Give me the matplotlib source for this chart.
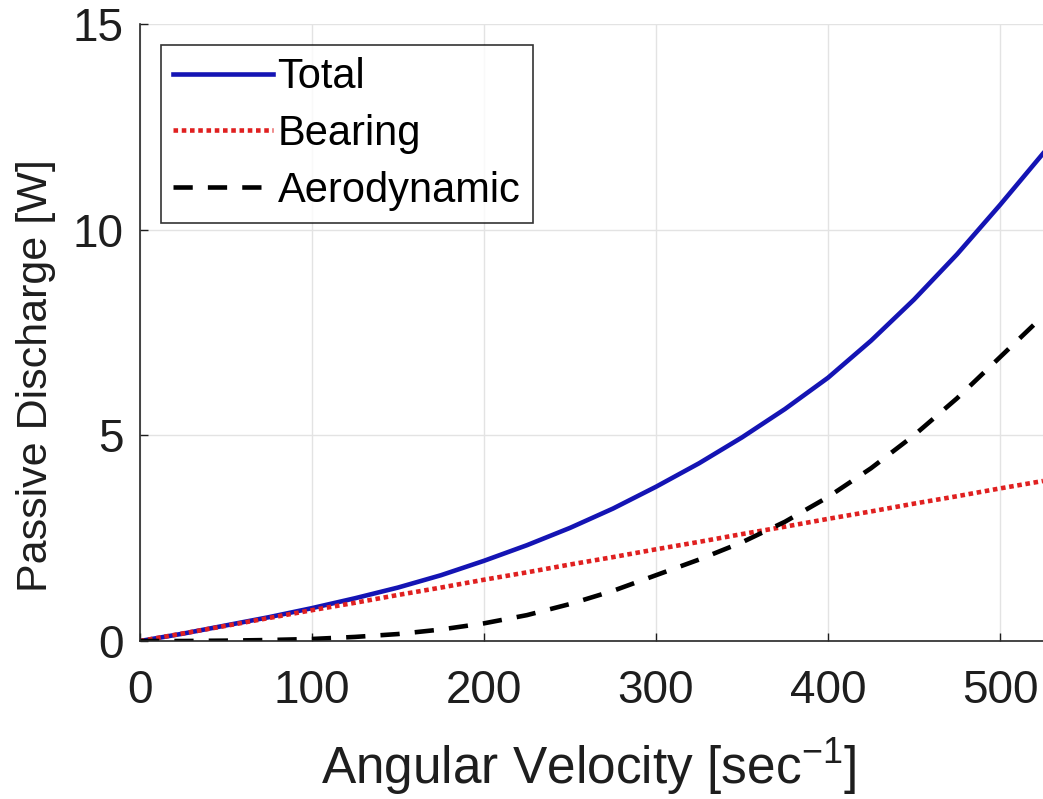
import numpy as np
import matplotlib
matplotlib.use("Agg")
import matplotlib.pyplot as plt

# datos
omega = [0, 25, 50, 75, 100, 125, 150, 175, 200, 225, 250, 275, 300,
         325, 350, 375, 400, 425, 450, 475, 500, 525]
total = [0, 0.18, 0.38, 0.58, 0.8, 1.04, 1.3, 1.6, 1.95, 2.33, 2.75, 3.22,
         3.75, 4.32, 4.95, 5.64, 6.4, 7.3, 8.3, 9.4, 10.6, 11.85]
bearing = [0, 0.185, 0.37, 0.56, 0.75, 0.93, 1.12, 1.3, 1.49, 1.67, 1.86,
           2.04, 2.23, 2.41, 2.6, 2.78, 2.97, 3.15, 3.34, 3.52, 3.71, 3.89]
aero = [0, 0.001, 0.01, 0.025, 0.05, 0.1, 0.17, 0.28, 0.43, 0.63, 0.9, 1.22,
        1.6, 1.98, 2.4, 2.9, 3.5, 4.2, 5.0, 5.9, 6.9, 7.9]

xticks = [0, 100, 200, 300, 400, 500]
yticks = [0, 5, 10, 15]

plt.rcParams['font.family'] = ['Liberation Sans', 'DejaVu Sans']
plt.rcParams['mathtext.fontset'] = 'custom'
plt.rcParams['mathtext.rm'] = 'Liberation Sans'

fig = plt.figure(figsize=(10.43, 7.99), dpi=100)
ax = fig.add_axes([0.1342, 0.1977, 0.8658, 0.7723])

ax.plot(omega, total, color='#1414b4', lw=3.3, label='Total')
ax.plot(omega, bearing, color='#e02020', lw=3.3, ls=(0, (1, 0.8)), label='Bearing')
ax.plot(omega, aero, color='black', lw=3.3, ls=(0, (4.2, 3.3)), label='Aerodynamic')

ax.set_xlim(0, 525)
ax.set_ylim(0, 15)
ax.set_xticks(xticks)
ax.set_yticks(yticks)
ax.tick_params(direction='in', length=6, width=1, labelsize=33, colors='#1e1e1e',
               top=False, right=False)
ax.tick_params(axis='x', pad=20)
ax.tick_params(axis='y', pad=12)
ax.grid(True, color='#e3e3e3', lw=1)
ax.set_axisbelow(True)
for s in ['top', 'right']:
    ax.spines[s].set_visible(False)
for s in ['left', 'bottom']:
    ax.spines[s].set_color('#262626')
    ax.spines[s].set_linewidth(1.2)

ax.set_xlabel('Angular Velocity [sec$^{\\mathregular{-1}}$]', fontsize=37, color='#1e1e1e')
ax.xaxis.set_label_coords(0.497, -0.155)
ax.set_ylabel('Passive Discharge [W]', fontsize=31, color='#1e1e1e')
ax.yaxis.set_label_coords(-0.093, 0.43)

leg = ax.legend(loc='upper left', fontsize=30, frameon=True, fancybox=False,
                edgecolor='black', handlelength=2.4, handletextpad=0.1,
                borderaxespad=0.5, labelspacing=0.4, borderpad=0.3)
leg.get_frame().set_linewidth(1.2)

fig.savefig('out.png', dpi=100)
